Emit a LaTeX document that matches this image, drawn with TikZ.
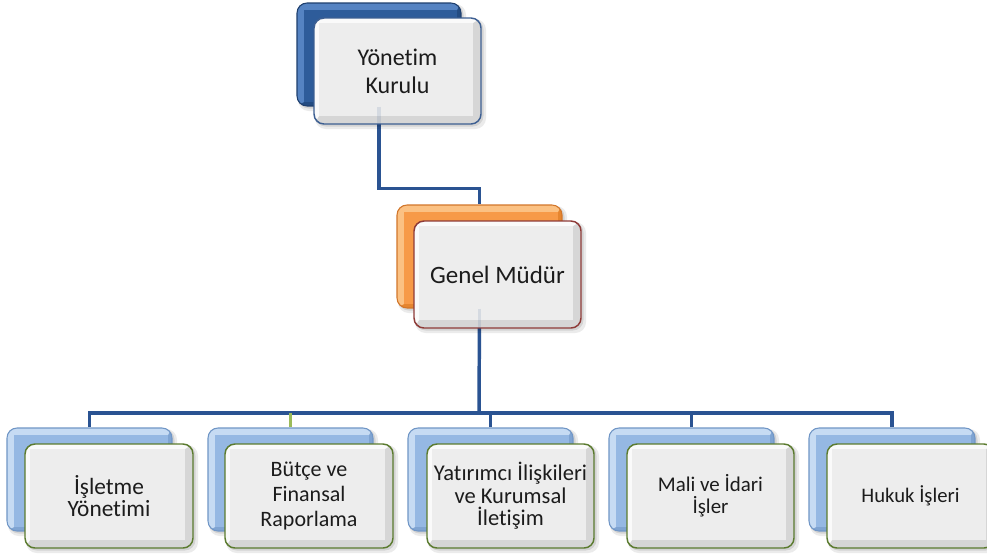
\documentclass[tikz,border=0pt]{standalone}
\usepackage{fontspec}
\setmainfont{Carlito}[Ligatures=NoCommon]
\usetikzlibrary{calc}
\pgfdeclarelayer{background}
\pgfsetlayers{background,main}

\definecolor{bkface}{HTML}{2E5C9A}
\definecolor{bklight}{HTML}{5583C2}
\definecolor{bkdark}{HTML}{244C82}
\definecolor{bkborder}{HTML}{1E3F6E}
\definecolor{orface}{HTML}{F79A48}
\definecolor{orlight}{HTML}{FBC183}
\definecolor{ordark}{HTML}{E5852F}
\definecolor{orborder}{HTML}{D2762A}
\definecolor{lbface}{HTML}{95B8E3}
\definecolor{lblight}{HTML}{C6DBF3}
\definecolor{lbdark}{HTML}{7FA4D2}
\definecolor{lbborder}{HTML}{7096C6}
\definecolor{frface}{HTML}{EDEDED}
\definecolor{frlight}{HTML}{FAFAFA}
\definecolor{frdark}{HTML}{D6D6D6}
\definecolor{frblue}{HTML}{3D5F92}
\definecolor{frred}{HTML}{8E3B38}
\definecolor{frgreen}{HTML}{5B7B2F}
\definecolor{conn}{HTML}{2A5392}
\definecolor{conngreen}{HTML}{9BBB59}
\definecolor{textc}{HTML}{1C1C1C}

% bevelled fill: x1 y1 x2 y2 b1(top/left) b2(right/bottom) light dark face
\newcommand\bevelbg[9]{%
  \begin{scope}
    \clip[rounded corners=7.5pt] (#1,#2) rectangle (#3,#4);
    \fill[#8] (#1,#2) rectangle (#3,#4);
    \fill[#7] (#1,#2) -- (#3,#2) -- ({#3-#6},{#2+#5}) -- ({#1+#5},{#2+#5})
      -- ({#1+#5},{#4-#6}) -- (#1,#4) -- cycle;
    \fill[#9] ({#1+#5},{#2+#5}) rectangle ({#3-#6},{#4-#6});
  \end{scope}}
\newcommand\softshadow[4]{%
  \fill[black,opacity=0.08,rounded corners=8pt] ({#1+1},{#2+1}) rectangle ({#3+5},{#4+5});
  \fill[black,opacity=0.10,rounded corners=8pt] ({#1+1},{#2+1}) rectangle ({#3+2.5},{#4+2.5});}
% node: style name x1 y1 x2 y2 text
\newcommand\boxnode[7]{%
  \node[#1, minimum width={(#5-#3)*0.75pt}, minimum height={(#6-#4)*0.75pt}]
    (#2) at ({(#3+#5)/2},{(#4+#6)/2}) {#7};}

\tikzset{
  backbox/.style={draw, rounded corners=7.5pt, line width=0.8pt, inner sep=0pt},
  frontbox/.style={draw, rounded corners=7.5pt, line width=1.1pt, inner sep=1pt,
    align=center, text=textc},
  connline/.style={draw=conn, line width=2.6pt},
}

\begin{document}
\begin{tikzpicture}[x=0.75pt,y=-0.75pt]
\useasboundingbox (0,0) rectangle (987,557);
\clip (0,0) rectangle (987,557);

% ---------- top: Yonetim Kurulu ----------
\softshadow{297}{3}{461}{106}
\bevelbg{297}{3}{461}{106}{7}{4}{bklight}{bkdark}{bkface}
\boxnode{backbox, draw=bkborder}{kb}{297}{3}{461}{106}{}
\softshadow{314}{18}{481}{124}
\bevelbg{314}{18}{481}{124}{5}{8}{frlight}{frdark}{frface}
\boxnode{frontbox, draw=frblue, font=\fontsize{18}{21}\selectfont}{kf}{314}{18}{481}{124}{Yönetim\\Kurulu}

% ---------- middle: Genel Mudur ----------
\softshadow{397}{205}{562}{308}
\bevelbg{397}{205}{562}{308}{7}{4}{orlight}{ordark}{orface}
\boxnode{backbox, draw=orborder}{gb}{397}{205}{562}{308}{}
\softshadow{414}{221}{581}{328}
\bevelbg{414}{221}{581}{328}{5}{8}{frlight}{frdark}{frface}
\boxnode{frontbox, draw=frred, font=\fontsize{18.75}{22}\selectfont}{gf}{414}{221}{581}{328}{Genel Müdür}

% ---------- bottom row ----------
\softshadow{7}{428}{172}{531}
\bevelbg{7}{428}{172}{531}{7}{4}{lblight}{lbdark}{lbface}
\boxnode{backbox, draw=lbborder}{b1}{7}{428}{172}{531}{}
\softshadow{25}{444}{193}{548}
\bevelbg{25}{444}{193}{548}{5}{8}{frlight}{frdark}{frface}
\boxnode{frontbox, draw=frgreen, font=\fontsize{17.5}{16.5}\selectfont}{f1}{25}{444}{193}{548}{İşletme\\Yönetimi}

\softshadow{208}{428}{373}{531}
\bevelbg{208}{428}{373}{531}{7}{4}{lblight}{lbdark}{lbface}
\boxnode{backbox, draw=lbborder}{b2}{208}{428}{373}{531}{}
\softshadow{225}{444}{393}{548}
\bevelbg{225}{444}{393}{548}{5}{8}{frlight}{frdark}{frface}
\boxnode{frontbox, draw=frgreen, font=\fontsize{16.5}{18.4}\selectfont}{f2}{225}{444}{393}{548}{Bütçe ve\\Finansal\\Raporlama}

\softshadow{408}{428}{573}{531}
\bevelbg{408}{428}{573}{531}{7}{4}{lblight}{lbdark}{lbface}
\boxnode{backbox, draw=lbborder}{b3}{408}{428}{573}{531}{}
\softshadow{427}{444}{594}{548}
\bevelbg{427}{444}{594}{548}{5}{8}{frlight}{frdark}{frface}
\boxnode{frontbox, draw=frgreen, font=\fontsize{16.9}{16.8}\selectfont}{f3}{427}{444}{594}{548}{Yatırımcı İlişkileri\\ve Kurumsal\\İletişim}

\softshadow{609}{428}{774}{531}
\bevelbg{609}{428}{774}{531}{7}{4}{lblight}{lbdark}{lbface}
\boxnode{backbox, draw=lbborder}{b4}{609}{428}{774}{531}{}
\softshadow{627}{444}{794}{548}
\bevelbg{627}{444}{794}{548}{5}{8}{frlight}{frdark}{frface}
\boxnode{frontbox, draw=frgreen, font=\fontsize{15.7}{16.5}\selectfont}{f4}{627}{444}{794}{548}{Mali ve İdari\\İşler}

\softshadow{809}{428}{975}{531}
\bevelbg{809}{428}{975}{531}{7}{4}{lblight}{lbdark}{lbface}
\boxnode{backbox, draw=lbborder}{b5}{809}{428}{975}{531}{}
\softshadow{827}{444}{994}{548}
\bevelbg{827}{444}{994}{548}{5}{8}{frlight}{frdark}{frface}
\boxnode{frontbox, draw=frgreen, font=\fontsize{15.5}{16.3}\selectfont}{f5}{827}{444}{994}{548}{Hukuk İşleri}

% ---------- connectors ----------
\coordinate (hl) at (479,413);
\begin{pgfonlayer}{background}
  \fill[white] (0,0) rectangle (987,557);
  \draw[connline] (kb.south) -- ++(0,82) -| (gb.north);
  \draw[connline] (gb.south) -- (hl);
  \draw[connline] (b1.north) -- (b1.north |- hl) -- (b5.north |- hl) -- (b5.north);
  \draw[connline, draw=conngreen] (b2.north) -- (b2.north |- hl);
  \draw[connline] (b3.north) -- (b3.north |- hl);
  \draw[connline] (b4.north) -- (b4.north |- hl);
\end{pgfonlayer}
% faint see-through of the connectors under the front boxes
\draw[connline, opacity=0.12] (kb.south) -- (kb.south |- kf.south);
\draw[connline, opacity=0.12] (gb.south) -- (gb.south |- gf.south);
\end{tikzpicture}
\end{document}
